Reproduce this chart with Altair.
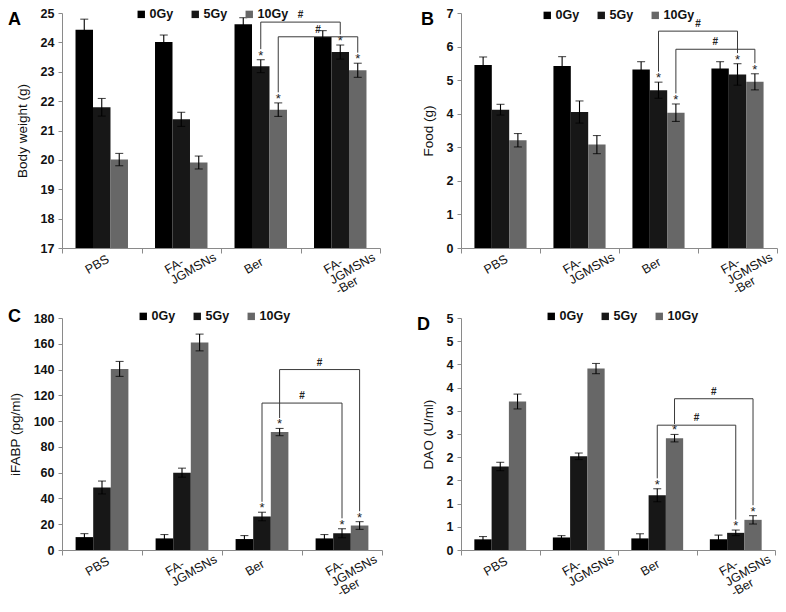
import json
import altair as alt
import pandas as pd

FONT = "Liberation Sans"

# ---------------- data ----------------
groups = ["PBS", "FA-JGMSNs", "Ber", "FA-JGMSNs-Ber"]
group_lines = [["PBS"], ["FA-", "JGMSNs"], ["Ber"], ["FA-", "JGMSNs", "-Ber"]]
doses = ["0Gy", "5Gy", "10Gy"]
dose_colors = ["#000000", "#171717", "#676767"]

# Panel A: body weight (g)
bw_0 = [24.43, 24.01, 24.62, 24.18]
bw_5 = [21.79, 21.38, 23.19, 23.67]
bw_10 = [20.01, 19.91, 21.71, 23.05]
bw_err_0 = [0.36, 0.24, 0.22, 0.22]
bw_err_5 = [0.30, 0.24, 0.22, 0.24]
bw_err_10 = [0.21, 0.22, 0.23, 0.24]
bw_brackets = [(2, 1, 3, 1, 24.69), (2, 2, 3, 2, 24.19)]

# Panel B: food (g)
food_0 = [5.45, 5.42, 5.32, 5.35]
food_5 = [4.12, 4.05, 4.70, 5.17]
food_10 = [3.21, 3.08, 4.03, 4.95]
food_err_0 = [0.24, 0.28, 0.23, 0.20]
food_err_5 = [0.16, 0.33, 0.24, 0.32]
food_err_10 = [0.20, 0.27, 0.26, 0.24]
food_brackets = [(2, 1, 3, 1, 6.46), (2, 2, 3, 2, 5.92)]

# Panel C: iFABP (pg/ml)
ifabp_0 = [10.0, 9.0, 8.5, 9.0]
ifabp_5 = [48.5, 60.0, 26.0, 13.0]
ifabp_10 = [140.5, 161.0, 91.5, 19.0]
ifabp_err_0 = [2.7, 3.0, 2.7, 3.0]
ifabp_err_5 = [5.0, 3.5, 3.3, 3.5]
ifabp_err_10 = [5.8, 6.5, 2.8, 3.0]
ifabp_brackets = [(2, 2, 3, 2, 140.0), (2, 1, 3, 1, 114.0)]

# Panel D: DAO (U/ml)
dao_0 = [0.23, 0.27, 0.25, 0.23]
dao_5 = [1.80, 2.02, 1.18, 0.37]
dao_10 = [3.20, 3.91, 2.41, 0.65]
dao_err_0 = [0.06, 0.04, 0.10, 0.09]
dao_err_5 = [0.09, 0.07, 0.14, 0.06]
dao_err_10 = [0.16, 0.11, 0.08, 0.09]
dao_brackets = [(2, 2, 3, 2, 3.26), (2, 1, 3, 1, 2.69)]

BW = 0.22  # bar width in group units
AXIS_GRAY = "#8a8a8a"
BR_COLOR = "#3a3a3a"


def xexpr(g, s):
    return f"datum.{g} + 0.5 + (datum.{s} - 1) * {BW}"


def panel(letter, values, errors, brackets, ymin, ymax, ystep, ytitle, fmt,
          w, h, leg_x, leg_y, let_x, let_y):
    rows = []
    for si, dose in enumerate(doses):
        for gi in range(len(groups)):
            v = values[si][gi]
            e = errors[si][gi]
            rows.append(dict(gi=gi, si=si, dose=dose, value=v, lo=v - e, hi=v + e))
    df = pd.DataFrame(rows)

    span = ymax - ymin
    gap = 0.045 * span
    br_rows, end_rows = [], []
    for ga, sa, gb, sb, level in brackets:
        br_rows.append(dict(ga=ga, sa=sa, gb=gb, sb=sb, level=level))
        for g, s in ((ga, sa), (gb, sb)):
            hi = values[s][g] + errors[s][g]
            end_rows.append(dict(gi=g, si=s, level=level, hi=hi, end=hi + gap))
    df_br = pd.DataFrame(br_rows)
    df_end = pd.DataFrame(end_rows)

    n = len(groups)
    ticks = [ymin + i * ystep for i in range(int(round(span / ystep)) + 1)]
    xscale = alt.Scale(domain=[0, n], nice=False, zero=False)
    yscale = alt.Scale(domain=[ymin, ymax], nice=False, zero=False)

    lines_json = json.dumps(group_lines)
    xaxis = alt.Axis(
        values=list(range(n + 1)),
        labelExpr=f"datum.value < {n} ? {lines_json}[datum.value] : ''",
        title=None, grid=False,
        labelAngle=330, labelAlign="left", labelBaseline="top",
        labelOffset=w / n / 2 - 19, labelPadding=12,
        tickSize=5, tickColor=AXIS_GRAY, domainColor=AXIS_GRAY,
        labelFont=FONT, labelFontSize=12.5, labelColor="#111111",
        labelLineHeight=12, labelOverlap=False, labelFlush=False, labelBound=False,
    )
    yaxis = alt.Axis(
        values=ticks, format=fmt, title=ytitle, grid=False,
        tickSize=4, tickColor=AXIS_GRAY, domainColor=AXIS_GRAY,
        labelFont=FONT, labelFontSize=12.5, labelFontWeight="bold", labelColor="#111111",
        labelPadding=4, titleFont=FONT, titleFontSize=13.5, titleFontWeight="normal",
        titleColor="#111111", titlePadding=11,
    )

    def X(f):
        return alt.X(f, scale=xscale, axis=xaxis)

    def Y(f):
        return alt.Y(f, scale=yscale, axis=yaxis)

    base = (alt.Chart(df)
            .transform_calculate(xc=xexpr("gi", "si"))
            .transform_calculate(x0=f"datum.xc - {BW / 2}", x1=f"datum.xc + {BW / 2}"))

    bars = base.mark_bar().encode(
        x=X("x0:Q"),
        x2="x1:Q",
        y=Y("value:Q"),
        y2=alt.datum(ymin),
        color=alt.Color(
            "dose:N",
            scale=alt.Scale(domain=doses, range=dose_colors),
            legend=alt.Legend(
                orient="none", legendX=leg_x, legendY=leg_y, direction="horizontal",
                title=None, symbolType="square", symbolSize=55, symbolStrokeWidth=0,
                symbolOpacity=1, labelFont=FONT, labelFontSize=12.5, labelFontWeight="bold",
                labelColor="#111111", labelOffset=2, columnPadding=15, padding=0,
            ),
        ),
    )
    err = base.mark_rule(color="black", strokeWidth=1.1).encode(
        x=X("xc:Q"), y=Y("lo:Q"), y2="hi:Q")
    cap_hi = base.mark_tick(orient="horizontal", size=8, thickness=1.1, color="black").encode(
        x=X("xc:Q"), y=Y("hi:Q"))
    cap_lo = base.mark_tick(orient="horizontal", size=8, thickness=1.1, color="black").encode(
        x=X("xc:Q"), y=Y("lo:Q"))

    br_base = (alt.Chart(df_br)
               .transform_calculate(xa=xexpr("ga", "sa"), xb=xexpr("gb", "sb"))
               .transform_calculate(xm="(datum.xa + datum.xb) / 2"))
    hline = br_base.mark_rule(color=BR_COLOR, strokeWidth=1).encode(
        x=X("xa:Q"), x2="xb:Q", y=Y("level:Q"))
    hashes = br_base.mark_text(text="#", font=FONT, fontSize=10, fontWeight="bold",
                               baseline="bottom", dy=-2, color="#222222").encode(
        x=X("xm:Q"), y=Y("level:Q"))

    end_base = alt.Chart(df_end).transform_calculate(xc=xexpr("gi", "si"))
    vline = end_base.mark_rule(color=BR_COLOR, strokeWidth=1).encode(
        x=X("xc:Q"), y=Y("level:Q"), y2="end:Q")
    stars = end_base.mark_text(text="*", font=FONT, fontSize=13, baseline="middle",
                               dy=-4, color="#222222").encode(
        x=X("xc:Q"), y=Y("hi:Q"))

    letter_mark = alt.Chart(pd.DataFrame({"t": [letter]})).mark_text(
        align="left", baseline="top", font=FONT, fontSize=18, fontWeight="bold",
        color="black").encode(text="t:N", x=alt.value(let_x), y=alt.value(let_y))

    return alt.layer(bars, hline, vline, err, cap_hi, cap_lo, stars, hashes,
                     letter_mark).properties(width=w, height=h)


pa = panel("A", [bw_0, bw_5, bw_10], [bw_err_0, bw_err_5, bw_err_10], bw_brackets,
           17, 25, 1, "Body weight (g)", "d", 318, 235, 73, -5, -54, -2)
pb = panel("B", [food_0, food_5, food_10], [food_err_0, food_err_5, food_err_10],
           food_brackets, 0, 7, 1, "Food (g)", "d", 316, 235, 80, -4, -40, -2)
pc = panel("C", [ifabp_0, ifabp_5, ifabp_10], [ifabp_err_0, ifabp_err_5, ifabp_err_10],
           ifabp_brackets, 0, 180, 20, "iFABP (pg/ml)", "d", 320, 232, 75, -8, -54, -10)
pd_ = panel("D", [dao_0, dao_5, dao_10], [dao_err_0, dao_err_5, dao_err_10],
            dao_brackets, 0, 5, 0.5, "DAO (U/ml)", ".0f", 314, 232, 84, -8, -44, -2)

chart = (
    alt.concat(pa, pb, pc, pd_, columns=2, spacing={"row": 70, "column": 79},
               align="none", bounds="flush")
    .resolve_scale(x="independent", y="independent", color="independent")
    .resolve_legend(color="independent")
    .properties(autosize=alt.AutoSizeParams(type="none"),
                padding={"left": 54, "top": 5, "right": 716, "bottom": 586})
    .configure_view(stroke=None)
)

chart.save("out.html", embed_options={"renderer": "svg", "actions": False})
